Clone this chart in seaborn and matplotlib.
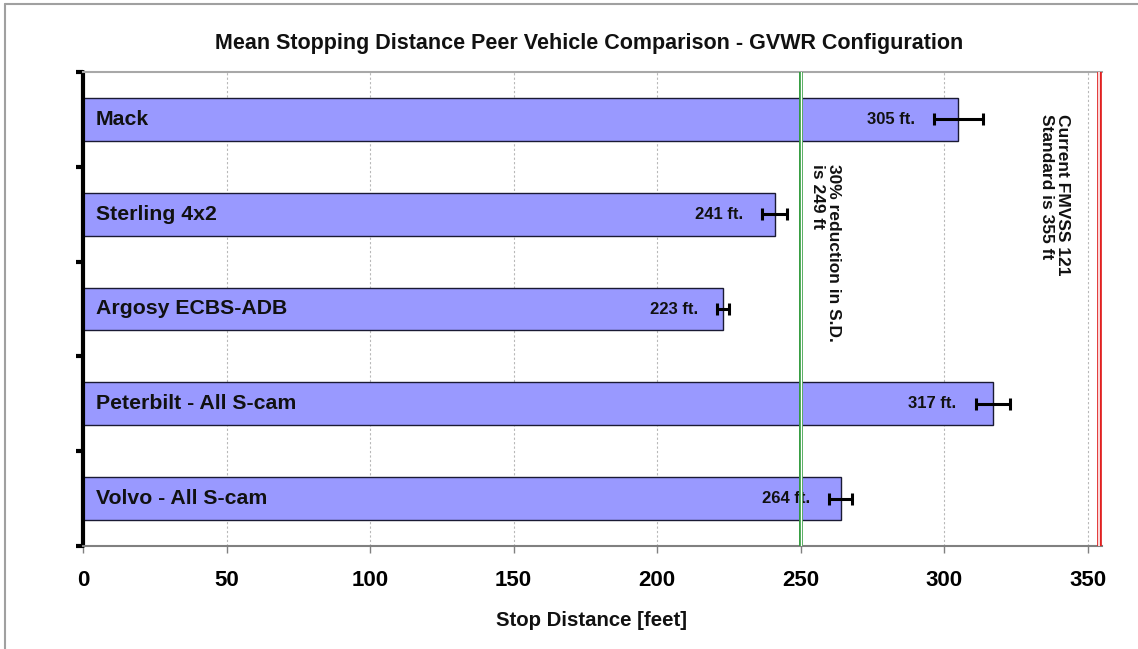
import matplotlib
matplotlib.use("Agg")
import matplotlib.pyplot as plt
import seaborn as sns
import pandas as pd
from matplotlib.lines import Line2D

# data
vehicles = ["Mack", "Sterling 4x2", "Argosy ECBS-ADB", "Peterbilt - All S-cam", "Volvo - All S-cam"]
stop_dist = [305, 241, 223, 317, 264]
stop_err = [8.5, 4.4, 2, 6, 4]
reduction_line = 250   # drawn position of the "249 ft" line
fmvss_line = 354       # drawn position of the "355 ft" line
x_ticks = [0, 50, 100, 150, 200, 250, 300, 350]

df = pd.DataFrame({"vehicle": vehicles, "dist": stop_dist, "err": stop_err})

sns.set_theme(style="white")
plt.rcParams["font.family"] = ["Liberation Sans", "DejaVu Sans"]
plt.rcParams["font.weight"] = "bold"

fig = plt.figure(figsize=(11.38, 6.49), dpi=100)
ax = fig.add_axes([83/1138, 1-546/649, (1102-83)/1138, (546-72)/649])

sns.barplot(data=df, x="dist", y="vehicle", orient="h", color="#9999ff", saturation=1,
            edgecolor="#1a1a33", linewidth=1, width=0.45, errorbar=None, ax=ax)
ax.errorbar(df["dist"], range(len(df)), xerr=df["err"], fmt="none", ecolor="black",
            elinewidth=2.2, capsize=4, capthick=2.2, zorder=5)

# labels inside bars
for i, row in df.iterrows():
    ax.text(4.5, i, row["vehicle"], ha="left", va="center", fontsize=15.3, fontweight="bold", color="#111111")
    ax.annotate(f"{row['dist']} ft.", xy=(row["dist"] - row["err"], i), xytext=(-14, 0),
                textcoords="offset points", ha="right", va="center", fontsize=12,
                fontweight="bold", color="#111111")

# reference lines (double lines)
ax.axvline(reduction_line, color="#2e9a3a", lw=2.8, zorder=4)
ax.axvline(reduction_line, color="white", lw=1.0, zorder=4)
ax.axvline(fmvss_line, color="#e02020", lw=3.4, zorder=4)
ax.axvline(fmvss_line, color="white", lw=1.2, zorder=4)

ax.text(258.6, 0.47, "30% reduction in S.D.\nis 249 ft", rotation=-90, ha="center", va="top",
        multialignment="left", fontsize=12.5, fontweight="bold", color="#111111", linespacing=1.1)
ax.text(338.5, -0.06, "Current FMVSS 121\nStandard is 355 ft", rotation=-90, ha="center", va="top",
        multialignment="left", fontsize=12.5, fontweight="bold", color="#111111", linespacing=1.1)

ax.set_xlim(0, 355)
ax.set_ylim(4.5, -0.5)
ax.set_xticks(x_ticks)
ax.set_xticklabels([str(t) for t in x_ticks], fontsize=16, fontweight="bold")
ax.set_yticks([-0.5, 0.5, 1.5, 2.5, 3.5, 4.5])
ax.set_yticklabels([])
ax.set_xlabel("")
ax.set_ylabel("")

ax.grid(axis="x", color="#b8b8b8", linestyle=(0, (2, 2)), lw=0.8)
ax.grid(axis="y", visible=False)
ax.set_axisbelow(True)

ax.spines["left"].set_color("black")
ax.spines["left"].set_linewidth(3)
ax.spines["left"].set_capstyle("round")
ax.spines["top"].set_color("#a8a8a8")
ax.spines["top"].set_linewidth(1.5)
ax.spines["bottom"].set_color("#808080")
ax.spines["bottom"].set_linewidth(1.5)
ax.spines["right"].set_visible(False)

ax.tick_params(axis="y", direction="out", length=5, width=3, color="black", left=True)
ax.tick_params(axis="x", direction="out", length=5, width=1, color="#808080", bottom=True,
               pad=12, labelcolor="black")

fig.text(0.518, 1-44/649, "Mean Stopping Distance Peer Vehicle Comparison - GVWR Configuration",
         ha="center", va="center", fontsize=15.5, fontweight="bold", color="#111111")
fig.text(592/1138, 1-620/649, "Stop Distance [feet]", ha="center", va="center",
         fontsize=14.7, fontweight="bold", color="#111111")

# outer chart frame
fig.add_artist(Line2D([5/1138, 5/1138], [0, 1-4/649], transform=fig.transFigure, color="#a0a0a0", lw=1.5))
fig.add_artist(Line2D([5/1138, 1], [1-4/649, 1-4/649], transform=fig.transFigure, color="#a0a0a0", lw=1.5))

fig.savefig("out.png", dpi=100, facecolor="white")
